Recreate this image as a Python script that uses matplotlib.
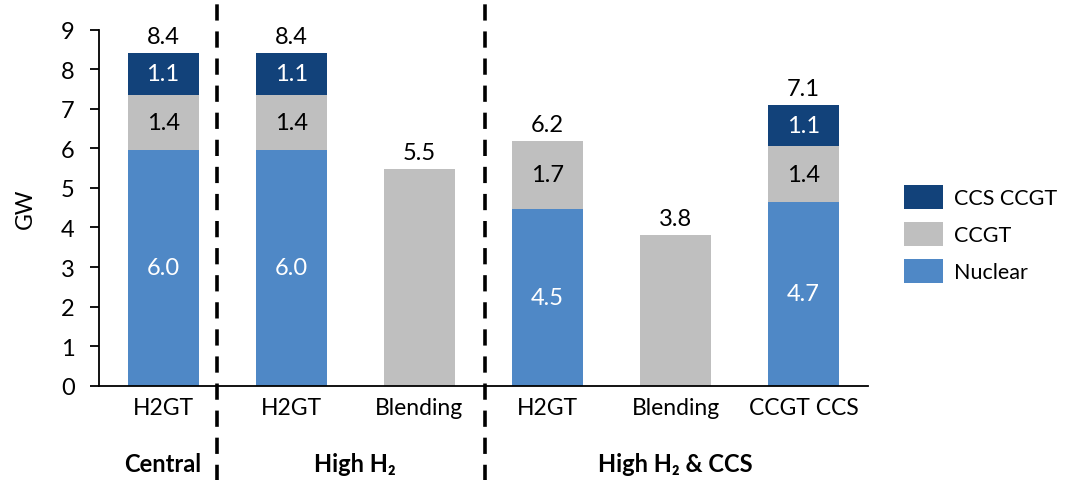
import matplotlib
matplotlib.use("Agg")
import matplotlib.pyplot as plt
from matplotlib.lines import Line2D
from matplotlib.patches import Patch

plt.rcParams['font.family'] = ['Lato', 'DejaVu Sans']

categories = ["H2GT", "H2GT", "Blending", "H2GT", "Blending", "CCGT CCS"]
groups = ["Central", "High H\u2082", "High H\u2082 & CCS"]
group_centers = [0, 1.5, 4]
separators = [0.42, 2.515]

nuclear = [5.96, 5.96, 0.0, 4.47, 0.0, 4.65]
ccgt = [1.40, 1.40, 5.47, 1.72, 3.80, 1.40]
ccs_ccgt = [1.05, 1.05, 0.0, 0.0, 0.0, 1.05]
totals = ["8.4", "8.4", "5.5", "6.2", "3.8", "7.1"]

series = [("Nuclear", nuclear, "#4F88C6", "white"),
          ("CCGT", ccgt, "#BFBFBF", "black"),
          ("CCS CCGT", ccs_ccgt, "#12427A", "white")]

fig = plt.figure(figsize=(10.67, 4.81), dpi=100)
ax = fig.add_axes([99/1067, 1-386.7/481, (867.7-99)/1067, (386.7-30.7)/481])

x = list(range(len(categories)))
bottoms = [0.0]*len(x)
nseg = [sum(1 for s in series if s[1][i] > 0) for i in x]
handles = {}
for name, vals, col, tcol in series:
    ax.bar(x, vals, bottom=bottoms, width=0.555, color=col, edgecolor='none')
    handles[name] = Patch(facecolor=col, edgecolor='none')
    for i in x:
        if vals[i] > 0 and nseg[i] > 1:
            ax.text(i, bottoms[i] + vals[i]/2, f"{vals[i]:.1f}", ha='center', va='center',
                    color=tcol, fontsize=17)
    bottoms = [b + v for b, v in zip(bottoms, vals)]

for i in x:
    ax.text(i, bottoms[i] + 0.15, totals[i], ha='center', va='bottom', fontsize=17, color='black')

ax.set_xlim(-0.5, 5.5)
ax.set_ylim(0, 9)
ax.set_yticks(range(0, 10))
ax.set_xticks(x)
ax.set_xticklabels(categories)
ax.tick_params(axis='x', length=0, pad=8, labelsize=16.5)
ax.tick_params(axis='y', length=6.5, width=1.3, pad=11, labelsize=17, direction='out')
for s in ['top', 'right']:
    ax.spines[s].set_visible(False)
ax.spines['left'].set_linewidth(1.3)
ax.spines['bottom'].set_linewidth(1.3)
ax.set_ylabel("GW", fontsize=16.5, labelpad=18)

for gx, g in zip(group_centers, groups):
    ax.text(gx, -1.97, g, ha='center', va='center', fontsize=17, fontweight='bold',
            family=['Lato', 'DejaVu Sans'], transform=ax.transData, clip_on=False)

for sx in separators:
    ln = Line2D([sx, sx], [-2.4, 9.8], color='black', linewidth=2.6,
                linestyle=(0, (4.5, 3)), transform=ax.transData, clip_on=False)
    ax.add_line(ln)

order = ["CCS CCGT", "CCGT", "Nuclear"]
fig.legend([handles[n] for n in order], order, loc='upper left',
           bbox_to_anchor=(904/1067, 1-186/481), frameon=False, fontsize=15.5,
           handlelength=1.8, handleheight=1.35, labelspacing=0.6, handletextpad=0.5,
           borderpad=0, borderaxespad=0)

fig.savefig("out.png", dpi=100)
